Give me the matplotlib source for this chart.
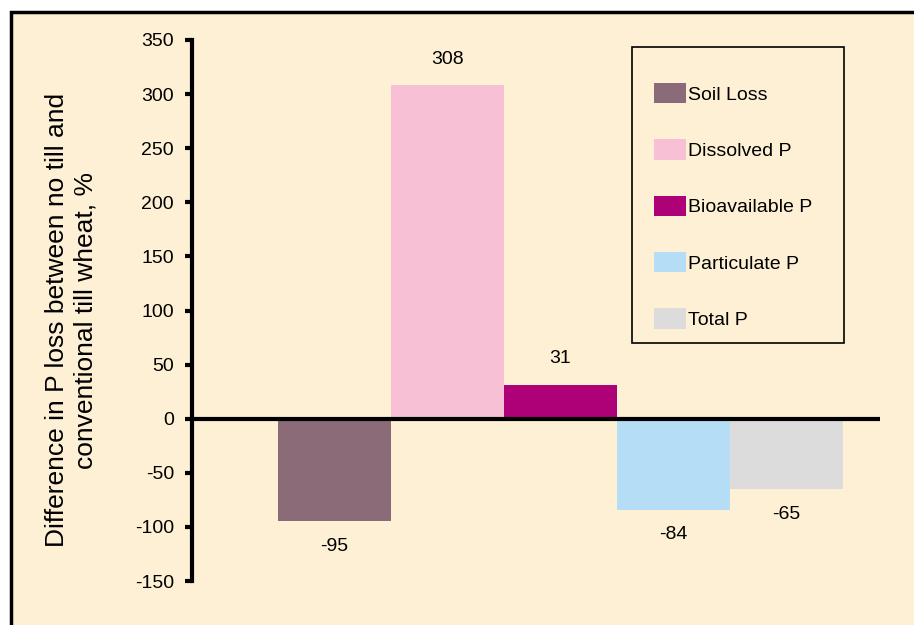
import matplotlib
matplotlib.use("Agg")
import matplotlib.pyplot as plt
from matplotlib.patches import Rectangle

categories = ["Soil Loss", "Dissolved P", "Bioavailable P", "Particulate P", "Total P"]
values = [-95, 308, 31, -84, -65]
colors = ["#8B6B77", "#F7C0D5", "#AE0077", "#B5DDF6", "#DCDCDC"]
yticks = [-150, -100, -50, 0, 50, 100, 150, 200, 250, 300, 350]

BG = "#FEF0D5"
plt.rcParams['font.family'] = ['Liberation Sans', 'DejaVu Sans']

W, H = 914, 625
fig = plt.figure(figsize=(W/100, H/100), dpi=100)
fig.patch.set_facecolor("white")

# outer cream panel with frame on top and left
panel = Rectangle((11/W, -0.1), 1.1, 1 - 12/H + 0.1, transform=fig.transFigure,
                  facecolor=BG, edgecolor="black", linewidth=2.5, zorder=-10)
fig.patches.append(panel)

# legend frame
lframe = Rectangle((632/W, 1 - 343/H), (844-632)/W, (343-47)/H, transform=fig.transFigure,
                   facecolor=BG, edgecolor="black", linewidth=1.2, zorder=-5)
fig.patches.append(lframe)

ax = fig.add_axes([192/W, 1 - 581/H, (880-192)/W, (581-40)/H])
ax.set_facecolor("none")
ax.set_zorder(5)

x = list(range(len(values)))
bars = ax.bar(x, values, width=1.0, color=colors, label=categories, zorder=2)

ax.set_xlim(-1.26, 4.83)
ax.set_ylim(-150, 350)
ax.set_yticks(yticks)
ax.set_yticklabels([str(t) for t in yticks], fontsize=14)
ax.tick_params(axis='y', direction='out', length=5, width=3, pad=8)
ax.set_xticks([])
for s in ['top', 'right', 'bottom']:
    ax.spines[s].set_visible(False)
ax.spines['left'].set_linewidth(3)
ax.axhline(0, color="black", linewidth=3, zorder=3)

for xi, v in zip(x, values):
    if v >= 0:
        ax.annotate(str(v), (xi, v), xytext=(0, 19), textcoords="offset points",
                    ha="center", va="center", fontsize=14)
    else:
        ax.annotate(str(v), (xi, v), xytext=(0, -18), textcoords="offset points",
                    ha="center", va="center", fontsize=14)

ax.set_ylabel("Difference in P loss between no till and\nconventional till wheat, %",
              fontsize=19, linespacing=1.25)
ax.yaxis.set_label_coords(-0.137, 0.482)

leg = ax.legend(loc="upper left", bbox_to_anchor=((654-192)/688, (581-83)/541),
                fontsize=14, frameon=False, labelspacing=1.83, handlelength=1.65,
                handleheight=1.24, handletextpad=0.1, borderpad=0, borderaxespad=0)

fig.savefig("out.png", dpi=100, facecolor=fig.get_facecolor())
